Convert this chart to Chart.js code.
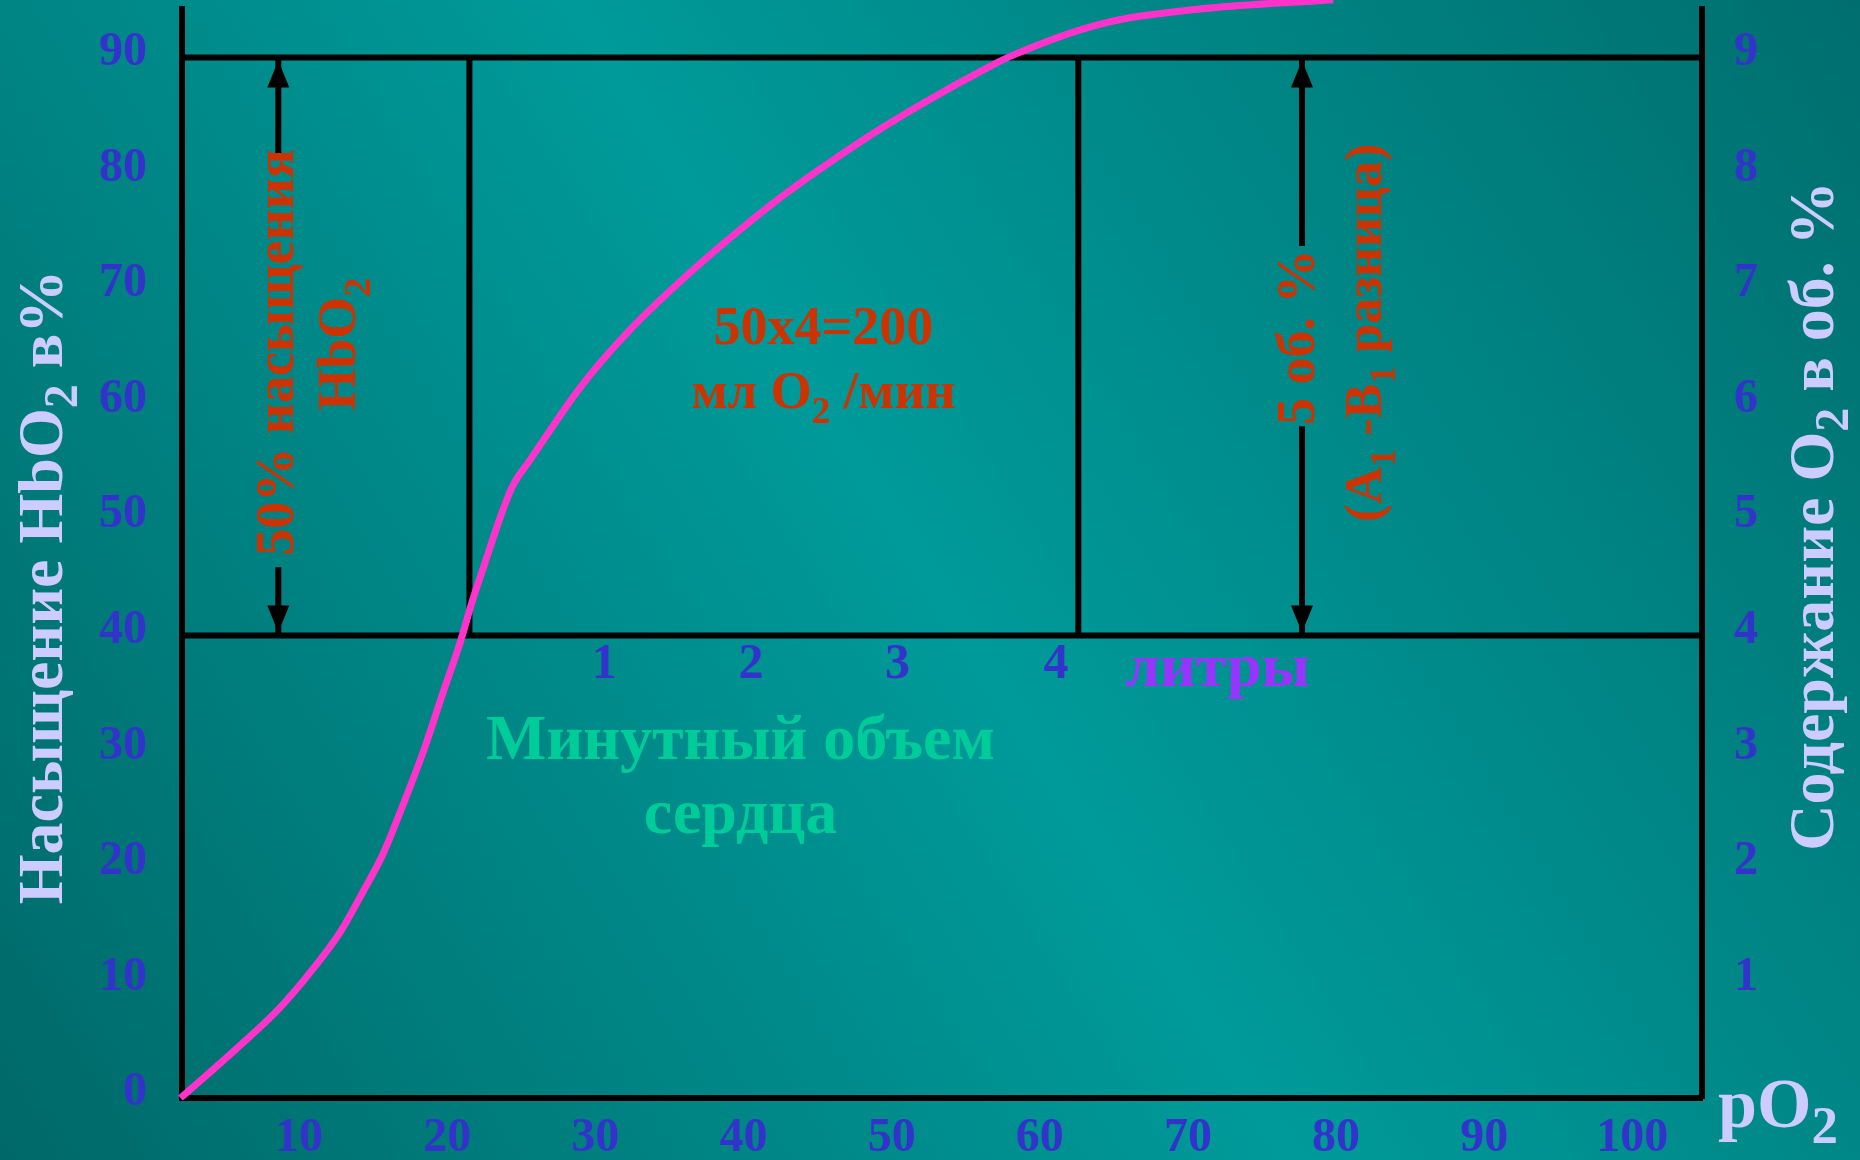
<!DOCTYPE html>
<html>
<head>
<meta charset="utf-8">
<style>
  html, body { margin: 0; padding: 0; background: #008080; overflow: hidden; }
  #wrap { width: 1860px; height: 1160px; }
  canvas { display: block; }
</style>
<script src="https://cdn.jsdelivr.net/npm/chart.js@4.4.1/dist/chart.umd.min.js"></script>
</head>
<body>
<div id="wrap"><canvas id="c" width="1860" height="1160"></canvas></div>
<script>
// ---------- data ----------
const pO2 = [2.0, 5.8, 8.7, 10.9, 12.8, 14.3, 15.7, 17.0, 18.4, 19.7, 20.9, 21.7, 22.4, 23.6, 24.4, 25.6, 29.0, 32.3, 35.7, 39.1, 42.5, 45.9, 49.2, 52.6, 56.0, 58.0, 64.1, 70.8, 79.8];
const saturation = [0, 4.3, 7.8, 11.1, 14.4, 17.8, 21.2, 25.3, 30.0, 35.0, 39.5, 43.0, 45.7, 50.3, 52.9, 55.2, 61.5, 66.4, 70.6, 74.4, 77.9, 81.0, 83.8, 86.4, 88.8, 90.1, 92.9, 94.2, 95.0];
const xTicks = [10, 20, 30, 40, 50, 60, 70, 80, 90, 100];
const yLeftTicks = [0, 10, 20, 30, 40, 50, 60, 70, 80, 90];
const yRightTicks = [1, 2, 3, 4, 5, 6, 7, 8, 9];
const xRange = [2.1, 104.7];
const yMax = 94.2;
const levelLines = [40, 90];          // HbO2 saturation levels of the box
const boxEdges = [21.5, 62.6];        // pO2 of the vertical box edges
const arrowX = [8.6, 77.7];           // pO2 of the double arrows
const arrowGapTop = [81.5, 73.7];     // where arrow shafts break for text
const arrowGapBottom = [45.9, 58.1];
const literLabels = ['1', '2', '3', '4'];
const literX = [30.6, 40.5, 50.4, 61.1];

// ---------- text annotations ----------
const RED = '#CC3300', BLUE = '#3333CC', LAV = '#CCCCFF', GREEN = '#00CC99', PURPLE = '#9933FF';
const FONT = '"Liberation Serif", "Times New Roman", serif';
const flatNotes = [
  { parts: [['50x4=200', 0]], x: 45.4, y: 65.2, size: 54, color: RED },
  { parts: [['мл O', 0], ['2', 1], [' /мин', 0]], x: 45.4, y: 59.7, size: 53, color: RED },
  { parts: [['литры', 0]], x: 72.0, y: 35.65, size: 62, color: PURPLE },
  { parts: [['Минутный объем', 0]], x: 39.8, y: 29.3, size: 64, color: GREEN },
  { parts: [['сердца', 0]], x: 39.8, y: 22.9, size: 64, color: GREEN }
];
const rotNotes = [
  { parts: [['50% насыщения', 0]], x: 9.6, y: 64.5, size: 54, color: RED },
  { parts: [['HbO', 0], ['2', 1]], x: 13.8, y: 65.2, size: 54, color: RED },
  { parts: [['5 об. %', 0]], x: 78.5, y: 65.8, size: 54, color: RED },
  { parts: [['(A', 0], ['1', 1], [' -B', 0], ['1', 1], [' разница)', 0]], x: 83.0, y: 66.2, size: 52, color: RED }
];

function drawRich(ctx, parts, x, y, size, color, align, rot, subScale, subDrop) {
  const main = 'bold ' + size + 'px ' + FONT;
  const sub = 'bold ' + Math.round(size * subScale) + 'px ' + FONT;
  const widths = parts.map(p => { ctx.font = p[1] ? sub : main; return ctx.measureText(p[0]).width; });
  const total = widths.reduce((a, b) => a + b, 0);
  ctx.save();
  ctx.translate(x, y);
  ctx.rotate(rot);
  ctx.fillStyle = color;
  ctx.textAlign = 'left';
  ctx.textBaseline = 'alphabetic';
  let cx = align === 'center' ? -total / 2 : 0;
  parts.forEach((p, i) => {
    ctx.font = p[1] ? sub : main;
    ctx.fillText(p[0], cx, p[1] ? size * subDrop : 0);
    cx += widths[i];
  });
  ctx.restore();
}

const backgroundPlugin = {
  id: 'bg',
  beforeDraw(chart) {
    const { ctx, width, height } = chart;
    const g = ctx.createLinearGradient(0, height, width, 0);
    g.addColorStop(0, '#006868');
    g.addColorStop(0.5, '#009A9A');
    g.addColorStop(1, '#006E6E');
    ctx.save();
    ctx.fillStyle = g;
    ctx.fillRect(0, 0, width, height);
    ctx.restore();
  }
};

const overlayPlugin = {
  id: 'overlay',
  afterDatasetsDraw(chart) {
    const ctx = chart.ctx;
    const xs = chart.scales.x, ys = chart.scales.y;
    // arrow heads
    ctx.save();
    ctx.fillStyle = '#000';
    arrowX.forEach(v => {
      const px = xs.getPixelForValue(v);
      const top = ys.getPixelForValue(levelLines[1]) + 3;
      const bot = ys.getPixelForValue(levelLines[0]) - 3;
      ctx.beginPath();
      ctx.moveTo(px, top); ctx.lineTo(px - 11, top + 27); ctx.lineTo(px + 11, top + 27); ctx.closePath(); ctx.fill();
      ctx.beginPath();
      ctx.moveTo(px, bot); ctx.lineTo(px - 11, bot - 27); ctx.lineTo(px + 11, bot - 27); ctx.closePath(); ctx.fill();
    });
    ctx.restore();
    // liter scale labels
    literLabels.forEach((t, i) => {
      drawRich(ctx, [[t, 0]], xs.getPixelForValue(literX[i]), ys.getPixelForValue(36.3), 50, BLUE, 'center', 0, 0.7, 0.28);
    });
    flatNotes.forEach(n => {
      drawRich(ctx, n.parts, xs.getPixelForValue(n.x), ys.getPixelForValue(n.y), n.size, n.color, 'center', 0, 0.7, 0.28);
    });
    rotNotes.forEach(n => {
      drawRich(ctx, n.parts, xs.getPixelForValue(n.x), ys.getPixelForValue(n.y), n.size, n.color, 'center', -Math.PI / 2, 0.7, 0.28);
    });
  },
  afterDraw(chart) {
    const ctx = chart.ctx;
    const ys = chart.scales.y, y2 = chart.scales.y2, ca = chart.chartArea;
    drawRich(ctx, [['Насыщение HbO', 0], ['2', 1], [' в%', 0]], ys.left + 62, 587, 64, LAV, 'center', -Math.PI / 2, 0.75, 0.24);
    drawRich(ctx, [['Содержание O', 0], ['2', 1], [' в об. %', 0]], y2.right - 27, 516, 64, LAV, 'center', -Math.PI / 2, 0.75, 0.24);
    drawRich(ctx, [['pO', 0], ['2', 1]], ca.right + 16, ca.bottom + 29, 70, LAV, 'left', 0, 0.75, 0.23);
  }
};

const lineStyle = { borderColor: '#000', borderWidth: 6, pointRadius: 0, order: 1, tension: 0, borderCapStyle: 'butt' };
const datasets = [
  { label: 'HbO2', data: pO2.map((x, i) => ({ x, y: saturation[i] })), borderColor: '#FF33CC', borderWidth: 7,
    pointRadius: 0, cubicInterpolationMode: 'monotone', clip: false, order: 0 }
];
levelLines.forEach(v => datasets.push(Object.assign({ data: [{ x: xRange[0], y: v }, { x: xRange[1], y: v }] }, lineStyle)));
boxEdges.forEach(v => datasets.push(Object.assign({ data: [{ x: v, y: levelLines[0] }, { x: v, y: levelLines[1] }] }, lineStyle)));
arrowX.forEach((v, i) => {
  datasets.push(Object.assign({ data: [{ x: v, y: levelLines[1] }, { x: v, y: arrowGapTop[i] }] }, lineStyle));
  datasets.push(Object.assign({ data: [{ x: v, y: arrowGapBottom[i] }, { x: v, y: levelLines[0] }] }, lineStyle));
});

const tickFont = { family: FONT, weight: 'bold', size: 48 };
const noPad = s => { s.paddingTop = 0; s.paddingBottom = 0; s.paddingLeft = 0; s.paddingRight = 0; };

new Chart(document.getElementById('c'), {
  type: 'line',
  data: { datasets },
  plugins: [backgroundPlugin, overlayPlugin],
  options: {
    responsive: false,
    devicePixelRatio: 1,
    animation: false,
    events: [],
    layout: { padding: { top: 9, left: 0, right: 0, bottom: 0 } },
    plugins: { legend: { display: false }, tooltip: { enabled: false }, title: { display: false } },
    scales: {
      x: {
        type: 'linear', position: 'bottom', min: xRange[0], max: xRange[1],
        afterBuildTicks: s => { s.ticks = xTicks.map(v => ({ value: v })); },
        afterFit: s => { s.height = 62; noPad(s); },
        grid: { display: false, drawTicks: false },
        border: { display: true, color: '#000', width: 6 },
        ticks: { color: BLUE, font: tickFont, padding: 12, autoSkip: false, maxRotation: 0, minRotation: 0, callback: v => String(v) }
      },
      y: {
        type: 'linear', position: 'left', min: 0, max: yMax,
        afterBuildTicks: s => { s.ticks = yLeftTicks.map(v => ({ value: v })); },
        afterFit: s => { s.width = 182; noPad(s); },
        grid: { display: false, drawTicks: false },
        border: { display: true, color: '#000', width: 6 },
        ticks: { color: BLUE, font: tickFont, padding: 35, labelOffset: -5, autoSkip: false, callback: v => String(v) }
      },
      y2: {
        type: 'linear', position: 'right', min: 0, max: yMax / 10,
        afterBuildTicks: s => { s.ticks = yRightTicks.map(v => ({ value: v })); },
        afterFit: s => { s.width = 158; noPad(s); },
        grid: { display: false, drawTicks: false },
        border: { display: true, color: '#000', width: 6 },
        ticks: { color: BLUE, font: tickFont, padding: 32, labelOffset: -5, autoSkip: false, callback: v => String(v) }
      }
    }
  }
});
</script>
</body>
</html>
